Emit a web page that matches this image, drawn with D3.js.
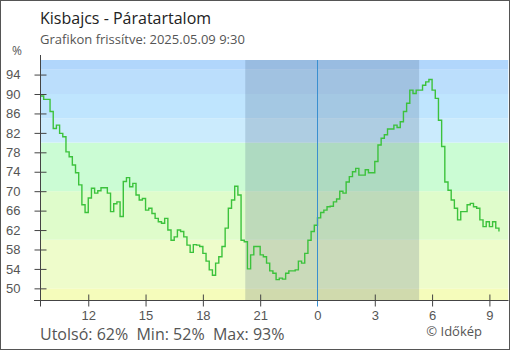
<!DOCTYPE html>
<html>
<head>
<meta charset="utf-8">
<script src="https://cdn.jsdelivr.net/npm/d3@7"></script>
<style>
  html, body { margin: 0; padding: 0; background: #fff; }
  svg { display: block; font-family: "Open Sans", "Noto Sans", sans-serif; }
</style>
</head>
<body>
<svg id="chart" width="510" height="350"></svg>
<script>
// Relative humidity (%) every 10 minutes, from 9:30 yesterday to 9:30 today
const humidity = [
  89.6, 88.9, 88.9, 86.4, 82.9, 83.6, 81.9, 81.2, 78.1, 77.1,
  75.4, 73.8, 71.3, 67.2, 65.6, 68.6, 70.6, 69.6, 70.1, 70.7,
  70.7, 69.6, 65.8, 67.4, 67.8, 64.8, 72.0, 72.8, 70.9, 71.6,
  69.2, 68.2, 68.5, 66.1, 66.5, 65.4, 64.4, 63.7, 63.4, 64.4,
  62.0, 59.9, 60.6, 62.0, 61.7, 60.6, 58.9, 57.4, 59.0, 58.9,
  58.6, 57.2, 55.6, 53.8, 52.7, 55.2, 56.5, 58.6, 62.4, 66.5,
  68.2, 71.0, 69.2, 59.9, 59.6, 54.0, 56.9, 58.6, 58.6, 56.9,
  56.5, 55.2, 53.6, 53.1, 51.8, 52.1, 51.9, 53.1, 53.6, 53.6,
  53.8, 55.6, 55.2, 57.2, 59.9, 61.7, 63.0, 64.5, 65.6, 66.1,
  66.8, 66.9, 67.8, 68.4, 70.0, 69.6, 71.9, 73.0, 74.0, 74.7,
  73.3, 73.3, 74.4, 73.8, 73.8, 76.1, 79.5, 80.9, 81.6, 82.8,
  82.8, 83.6, 83.1, 84.3, 86.4, 88.1, 90.8, 90.1, 90.8, 90.8,
  91.8, 92.5, 93.0, 90.8, 89.1, 84.6, 79.2, 71.9, 70.2, 68.2,
  66.5, 64.1, 65.8, 65.8, 67.2, 67.5, 66.8, 66.5, 64.1, 62.7,
  63.7, 62.7, 63.7, 62.4, 61.7
];
// hours relative to midnight of the reading at each index
const startHour = -14.5;
const stepHours = 10 / 60;

// humidity colour bands (lower bound, upper bound, fill)
const bandLow  = [0,       50,        60,        70,        80,        85,        90,        95];
const bandHigh = [50,      60,        70,        80,        85,        90,        95,        100];
const bandFill = ["#f5fcbb", "#eefccb", "#dffccb", "#cbfcd4", "#cbebfd", "#bfe5fe", "#bbdefc", "#b1d6fc"];

const yTicks = [50, 54, 58, 62, 66, 70, 74, 78, 82, 86, 90, 94];
const xTickHours = [-12, -9, -6, -3, 0, 3, 6, 9];
const xTickLabels = ["12", "15", "18", "21", "0", "3", "6", "9"];

// darkness between sunset and sunrise (hours from midnight)
const nightStart = -3.78;
const nightEnd = 5.32;

const stats = { last: 62, min: 52, max: 93 };

const svg = d3.select("#chart");
const W = 510, H = 350;
const pLeft = 40.5, pRight = 508.5, pTop = 60, pBottom = 300.5;

const x = d3.scaleLinear().domain([-14.5, 10]).range([pLeft, pRight]);
const y = d3.scaleLinear().domain([47.5, 97]).range([pBottom, pTop]);

const points = humidity.map((v, i) => ({ h: startHour + i * stepHours, v }));

// outer frame
svg.append("rect").attr("x", 0.5).attr("y", 0.5).attr("width", W - 1).attr("height", H - 1)
  .attr("fill", "#fff").attr("stroke", "#555");

// plot clip
svg.append("defs").append("clipPath").attr("id", "plot")
  .append("rect").attr("x", pLeft).attr("y", pTop)
  .attr("width", pRight - pLeft).attr("height", pBottom - pTop);

const plot = svg.append("g").attr("clip-path", "url(#plot)");

// colour bands
plot.selectAll("rect.band").data(bandLow).join("rect").attr("class", "band")
  .attr("x", pLeft)
  .attr("width", pRight - pLeft)
  .attr("y", (d, i) => y(Math.min(bandHigh[i], 97)))
  .attr("height", (d, i) => Math.max(0, y(Math.max(d, 47.5)) - y(Math.min(bandHigh[i], 97))))
  .attr("fill", (d, i) => bandFill[i]);

// night shading
plot.append("rect")
  .attr("x", x(nightStart)).attr("y", pTop)
  .attr("width", x(nightEnd) - x(nightStart)).attr("height", pBottom - pTop)
  .attr("fill", "rgb(60,85,120)").attr("fill-opacity", 0.2);

// humidity line
const line = d3.line().x(d => x(d.h)).y(d => y(d.v)).curve(d3.curveStepAfter);
plot.append("path").datum(points)
  .attr("d", line)
  .attr("fill", "none").attr("stroke", "#3cc23c").attr("stroke-width", 1.4);

// midnight marker
svg.append("line")
  .attr("x1", Math.round(x(0)) + 0.5).attr("x2", Math.round(x(0)) + 0.5)
  .attr("y1", pTop).attr("y2", pBottom + 6)
  .attr("stroke", "#3a8fd0").attr("stroke-width", 1);

// y axis
const yAxis = d3.axisLeft(y).tickValues(yTicks).tickSize(0).tickPadding(20);
const gy = svg.append("g").attr("transform", `translate(${pLeft},0)`).call(yAxis);
gy.select(".domain").remove();
gy.selectAll(".tick text").attr("fill", "#555").attr("font-size", 13).attr("x", -20);
gy.selectAll(".tick").append("line").attr("x1", -6).attr("x2", 6).attr("stroke", "#444");
svg.append("line").attr("x1", pLeft).attr("x2", pLeft).attr("y1", 55).attr("y2", pBottom + 6)
  .attr("stroke", "#444");

// x axis
const xAxis = d3.axisBottom(x).tickValues(xTickHours)
  .tickFormat((d, i) => xTickLabels[i]).tickSize(0).tickPadding(10);
const gx = svg.append("g").attr("transform", `translate(0,${pBottom})`).call(xAxis);
gx.select(".domain").remove();
gx.selectAll(".tick text").attr("fill", "#555").attr("font-size", 13);
gx.selectAll(".tick").filter(d => d !== 0)
  .append("line").attr("y1", -6).attr("y2", 6).attr("stroke", "#444");
svg.append("line").attr("x1", 34).attr("x2", pRight).attr("y1", pBottom).attr("y2", pBottom)
  .attr("stroke", "#444");

// titles
svg.append("text").attr("x", 40).attr("y", 24).attr("font-size", 16).attr("fill", "#222")
  .text("Kisbajcs - Páratartalom");
svg.append("text").attr("x", 40).attr("y", 44).attr("font-size", 13).attr("fill", "#555")
  .text("Grafikon frissítve: 2025.05.09 9:30");
svg.append("text").attr("x", 17).attr("y", 55).attr("font-size", 12).attr("fill", "#555")
  .attr("text-anchor", "middle").text("%");

// summary
svg.append("text").attr("x", 40).attr("y", 340).attr("font-size", 16).attr("fill", "#555")
  .attr("xml:space", "preserve")
  .text(`Utolsó: ${stats.last}%  Min: ${stats.min}%  Max: ${stats.max}%`);
svg.append("text").attr("x", 482).attr("y", 336).attr("font-size", 13).attr("fill", "#555")
  .attr("text-anchor", "end").text("© Időkép");
</script>
</body>
</html>
